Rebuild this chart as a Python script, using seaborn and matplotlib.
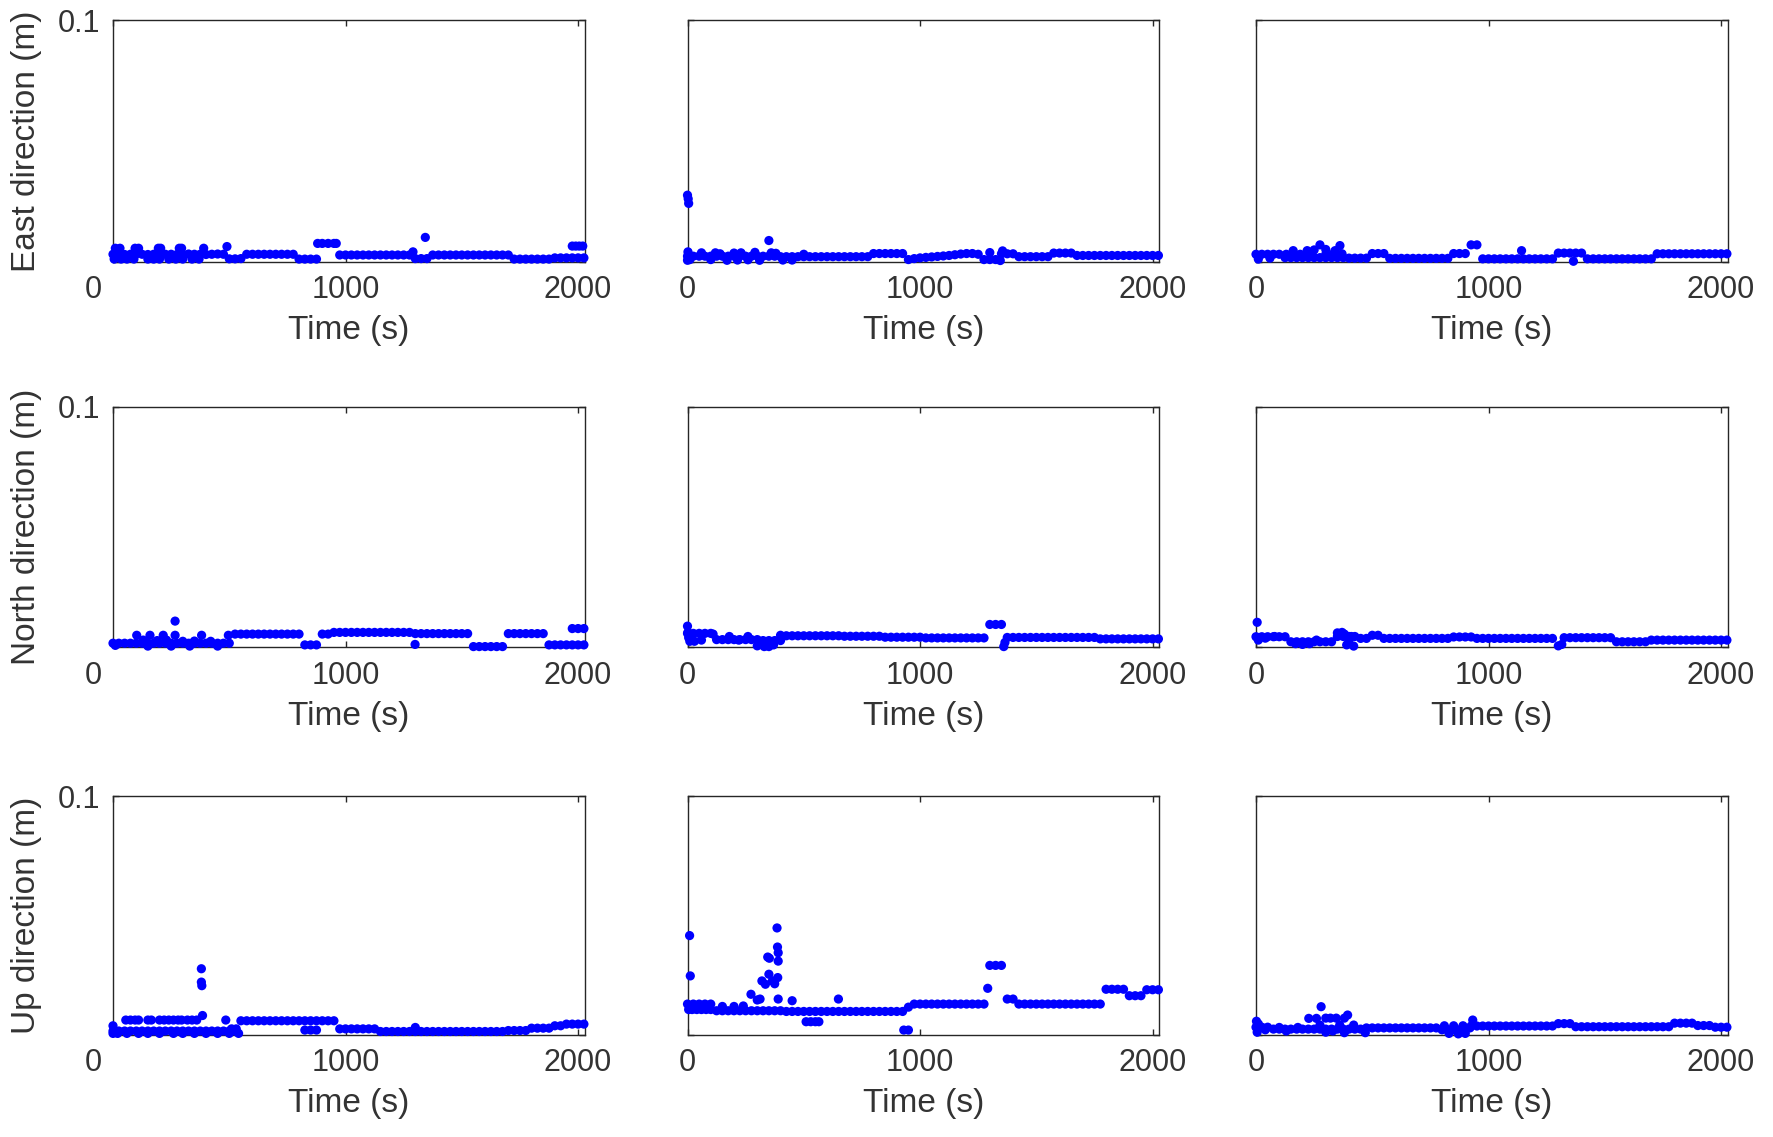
import numpy as np
import pandas as pd
import matplotlib
matplotlib.use("Agg")
import matplotlib.pyplot as plt
import matplotlib.transforms as mtransforms
import seaborn as sns

# ---------------- data ----------------
time_grid = np.arange(0, 2026, 25)  # sample times (s), 82 samples

east_1 = [
    0.0030, 0.0031, 0.0029, 0.0030, 0.0031, 0.0030, 0.0029, 0.0030, 0.0031, 0.0030,
    0.0030, 0.0029, 0.0030, 0.0031, 0.0030, 0.0030, 0.0029, 0.0030, 0.0031, 0.0030,
    0.0011, 0.0011, 0.0012, 0.0030, 0.0030, 0.0030, 0.0030, 0.0030, 0.0030, 0.0030,
    0.0030, 0.0030, 0.0010, 0.0010, 0.0010, 0.0010, 0.0075, 0.0075, 0.0075, 0.0027,
    0.0027, 0.0027, 0.0027, 0.0027, 0.0027, 0.0027, 0.0027, 0.0027, 0.0027, 0.0027,
    0.0027, 0.0027, 0.0012, 0.0012, 0.0012, 0.0027, 0.0027, 0.0027, 0.0027, 0.0027,
    0.0027, 0.0027, 0.0027, 0.0027, 0.0027, 0.0027, 0.0027, 0.0027, 0.0027, 0.0010,
    0.0010, 0.0010, 0.0010, 0.0010, 0.0010, 0.0010, 0.0015, 0.0015, 0.0015, 0.0015,
    0.0015, 0.0015]
east_1_extra_t = [10, 30, 95, 110, 195, 205, 285, 295, 390, 490,
                  5, 35, 60, 90, 150, 175, 200, 240, 270, 300, 340, 370,
                  880, 960, 1290, 1343, 1975, 1990, 2005, 2020]
east_1_extra_v = [0.0055, 0.0055, 0.0055, 0.0055, 0.0055, 0.0055, 0.0055, 0.0055, 0.0055, 0.0062,
                  0.0010, 0.0010, 0.0010, 0.0010, 0.0010, 0.0010, 0.0010, 0.0010, 0.0010, 0.0010, 0.0010, 0.0010,
                  0.0075, 0.0075, 0.0040, 0.0100, 0.0064, 0.0064, 0.0064, 0.0064]

east_2 = [
    0.0022, 0.0022, 0.0022, 0.0022, 0.0022, 0.0022, 0.0022, 0.0022, 0.0022, 0.0022,
    0.0022, 0.0022, 0.0022, 0.0022, 0.0022, 0.0022, 0.0020, 0.0020, 0.0020, 0.0020,
    0.0020, 0.0020, 0.0020, 0.0020, 0.0020, 0.0020, 0.0020, 0.0020, 0.0020, 0.0020,
    0.0020, 0.0020, 0.0033, 0.0033, 0.0033, 0.0033, 0.0033, 0.0033, 0.0008, 0.0012,
    0.0015, 0.0017, 0.0019, 0.0021, 0.0023, 0.0025, 0.0028, 0.0031, 0.0033, 0.0033,
    0.0030, 0.0008, 0.0008, 0.0008, 0.0032, 0.0032, 0.0032, 0.0020, 0.0020, 0.0020,
    0.0020, 0.0020, 0.0020, 0.0035, 0.0035, 0.0035, 0.0035, 0.0025, 0.0025, 0.0025,
    0.0025, 0.0025, 0.0025, 0.0025, 0.0025, 0.0025, 0.0025, 0.0025, 0.0025, 0.0025,
    0.0025, 0.0025]
east_2_extra_t = [0, 3, 5, 0, 2, 10, 60, 100, 120, 140, 170, 200, 215, 230, 260, 290,
                  310, 350, 360, 380, 410, 450, 500, 1300, 1355, 1345]
east_2_extra_v = [0.0275, 0.0260, 0.0241, 0.0005, 0.0040, 0.0008, 0.0036, 0.0008, 0.0036, 0.0032,
                  0.0005, 0.0035, 0.0006, 0.0036, 0.0007, 0.0038, 0.0005, 0.0087, 0.0036, 0.0034,
                  0.0006, 0.0006, 0.0030, 0.0037, 0.0044, 0.0004]

east_3 = [
    0.0030, 0.0030, 0.0030, 0.0030, 0.0030, 0.0016, 0.0016, 0.0016, 0.0016, 0.0016,
    0.0016, 0.0016, 0.0016, 0.0016, 0.0016, 0.0016, 0.0014, 0.0014, 0.0014, 0.0014,
    0.0033, 0.0033, 0.0033, 0.0013, 0.0013, 0.0013, 0.0013, 0.0013, 0.0013, 0.0013,
    0.0013, 0.0013, 0.0013, 0.0013, 0.0033, 0.0033, 0.0033, 0.0069, 0.0069, 0.0011,
    0.0011, 0.0011, 0.0011, 0.0011, 0.0011, 0.0011, 0.0011, 0.0011, 0.0011, 0.0011,
    0.0011, 0.0011, 0.0035, 0.0035, 0.0035, 0.0035, 0.0035, 0.0011, 0.0011, 0.0011,
    0.0011, 0.0011, 0.0011, 0.0011, 0.0011, 0.0011, 0.0011, 0.0011, 0.0011, 0.0032,
    0.0032, 0.0032, 0.0032, 0.0032, 0.0032, 0.0032, 0.0032, 0.0032, 0.0032, 0.0032,
    0.0032, 0.0032]
east_3_extra_t = [10, 60, 130, 160, 190, 220, 240, 250, 275, 300, 300, 330, 340, 361, 370, 1142, 1365]
east_3_extra_v = [0.0010, 0.0014, 0.0030, 0.0045, 0.0030, 0.0045, 0.0030, 0.0048, 0.0069, 0.0050,
                  0.0030, 0.0030, 0.0045, 0.0066, 0.0032, 0.0045, 0.0001]

north_1 = [
    0.0017, 0.0017, 0.0017, 0.0017, 0.0017, 0.0017, 0.0017, 0.0017, 0.0017, 0.0017,
    0.0017, 0.0017, 0.0017, 0.0017, 0.0017, 0.0017, 0.0017, 0.0017, 0.0017, 0.0017,
    0.0017, 0.0055, 0.0055, 0.0055, 0.0055, 0.0055, 0.0055, 0.0055, 0.0055, 0.0055,
    0.0055, 0.0055, 0.0055, 0.0010, 0.0010, 0.0010, 0.0055, 0.0055, 0.0062, 0.0062,
    0.0062, 0.0062, 0.0062, 0.0062, 0.0062, 0.0062, 0.0062, 0.0062, 0.0062, 0.0062,
    0.0062, 0.0062, 0.0057, 0.0057, 0.0057, 0.0057, 0.0057, 0.0057, 0.0057, 0.0057,
    0.0057, 0.0057, 0.0003, 0.0003, 0.0003, 0.0003, 0.0003, 0.0003, 0.0057, 0.0057,
    0.0057, 0.0057, 0.0057, 0.0057, 0.0057, 0.0010, 0.0010, 0.0010, 0.0010, 0.0010,
    0.0010, 0.0010]
north_1_extra_t = [267, 1299, 1975, 2000, 2025, 102, 159, 216, 267, 381, 496,
                   130, 190, 230, 300, 350, 420, 10, 150, 250, 330, 450]
north_1_extra_v = [0.0109, 0.0012, 0.0078, 0.0078, 0.0078, 0.0050, 0.0050, 0.0050, 0.0050, 0.0050,
                   0.0050, 0.0030, 0.0028, 0.0030, 0.0025, 0.0026, 0.0025, 0.0008, 0.0005, 0.0005,
                   0.0005, 0.0005]

north_2 = [
    0.0058, 0.0058, 0.0058, 0.0058, 0.0058, 0.0032, 0.0032, 0.0032, 0.0032, 0.0032,
    0.0032, 0.0032, 0.0032, 0.0028, 0.0028, 0.0028, 0.0028, 0.0048, 0.0048, 0.0048,
    0.0048, 0.0048, 0.0048, 0.0048, 0.0048, 0.0048, 0.0048, 0.0046, 0.0046, 0.0046,
    0.0046, 0.0046, 0.0046, 0.0046, 0.0042, 0.0042, 0.0042, 0.0042, 0.0042, 0.0042,
    0.0042, 0.0039, 0.0039, 0.0039, 0.0039, 0.0039, 0.0039, 0.0039, 0.0039, 0.0039,
    0.0039, 0.0039, 0.0095, 0.0095, 0.0095, 0.0041, 0.0041, 0.0041, 0.0041, 0.0041,
    0.0041, 0.0041, 0.0041, 0.0041, 0.0041, 0.0041, 0.0041, 0.0041, 0.0041, 0.0041,
    0.0041, 0.0035, 0.0035, 0.0035, 0.0035, 0.0035, 0.0035, 0.0035, 0.0035, 0.0035,
    0.0035, 0.0035]
north_2_extra_t = [0, 2, 5, 10, 30, 60, 110, 180, 220, 260, 300, 330, 350, 370, 400, 1360, 1365]
north_2_extra_v = [0.0088, 0.0062, 0.0040, 0.0025, 0.0025, 0.0030, 0.0055, 0.0045, 0.0030, 0.0045,
                   0.0006, 0.0003, 0.0003, 0.0010, 0.0050, 0.0003, 0.0020]

north_3 = [
    0.0044, 0.0044, 0.0044, 0.0044, 0.0044, 0.0044, 0.0023, 0.0023, 0.0023, 0.0023,
    0.0023, 0.0023, 0.0023, 0.0023, 0.0045, 0.0045, 0.0045, 0.0045, 0.0037, 0.0037,
    0.0050, 0.0050, 0.0037, 0.0037, 0.0037, 0.0037, 0.0037, 0.0037, 0.0037, 0.0037,
    0.0037, 0.0037, 0.0037, 0.0037, 0.0043, 0.0043, 0.0043, 0.0043, 0.0037, 0.0037,
    0.0037, 0.0037, 0.0037, 0.0037, 0.0037, 0.0037, 0.0037, 0.0037, 0.0037, 0.0037,
    0.0037, 0.0037, 0.0006, 0.0040, 0.0040, 0.0040, 0.0040, 0.0040, 0.0040, 0.0040,
    0.0040, 0.0040, 0.0023, 0.0023, 0.0023, 0.0023, 0.0023, 0.0023, 0.0030, 0.0030,
    0.0030, 0.0030, 0.0030, 0.0030, 0.0030, 0.0030, 0.0030, 0.0030, 0.0030, 0.0030,
    0.0030, 0.0030]
north_3_extra_t = [5, 10, 40, 80, 170, 200, 230, 260, 350, 370, 380, 390, 400, 410, 420, 1315]
north_3_extra_v = [0.0104, 0.0030, 0.0038, 0.0045, 0.0015, 0.0012, 0.0015, 0.0030, 0.0060, 0.0062,
                   0.0055, 0.0010, 0.0030, 0.0045, 0.0005, 0.0012]

up_1 = [
    0.0015, 0.0015, 0.0015, 0.0015, 0.0015, 0.0015, 0.0015, 0.0015, 0.0015, 0.0015,
    0.0015, 0.0015, 0.0015, 0.0015, 0.0015, 0.0015, 0.0015, 0.0015, 0.0015, 0.0015,
    0.0015, 0.0015, 0.0058, 0.0058, 0.0058, 0.0058, 0.0058, 0.0058, 0.0058, 0.0058,
    0.0058, 0.0058, 0.0058, 0.0058, 0.0058, 0.0058, 0.0058, 0.0058, 0.0058, 0.0024,
    0.0024, 0.0024, 0.0024, 0.0024, 0.0024, 0.0024, 0.0013, 0.0013, 0.0013, 0.0013,
    0.0013, 0.0013, 0.0013, 0.0013, 0.0013, 0.0013, 0.0013, 0.0013, 0.0013, 0.0013,
    0.0013, 0.0013, 0.0013, 0.0013, 0.0013, 0.0013, 0.0013, 0.0013, 0.0017, 0.0017,
    0.0017, 0.0017, 0.0027, 0.0027, 0.0027, 0.0027, 0.0037, 0.0037, 0.0044, 0.0044,
    0.0044, 0.0044]
up_1_extra_t = [380, 380, 382, 385, 0,
                55, 75, 95, 110, 150, 165, 200, 220, 240, 260, 280, 295, 320, 340, 360, 485,
                0, 20, 60, 110, 150, 200, 260, 300, 350, 400, 450, 500, 540,
                510, 530, 825, 850, 875, 1300]
up_1_extra_v = [0.0276, 0.0220, 0.0205, 0.0080, 0.0037,
                0.0061, 0.0061, 0.0061, 0.0061, 0.0061, 0.0061, 0.0061, 0.0061, 0.0061, 0.0061,
                0.0061, 0.0061, 0.0061, 0.0061, 0.0061, 0.0061,
                0.0005, 0.0005, 0.0005, 0.0005, 0.0005, 0.0005, 0.0005, 0.0005, 0.0005, 0.0005,
                0.0005, 0.0005, 0.0005,
                0.0024, 0.0024, 0.0019, 0.0019, 0.0019, 0.0030]

up_2 = [
    0.0128, 0.0128, 0.0128, 0.0128, 0.0128, 0.0100, 0.0100, 0.0100, 0.0100, 0.0100,
    0.0100, 0.0100, 0.0100, 0.0100, 0.0100, 0.0100, 0.0100, 0.0097, 0.0097, 0.0097,
    0.0097, 0.0097, 0.0097, 0.0097, 0.0097, 0.0097, 0.0097, 0.0097, 0.0097, 0.0097,
    0.0097, 0.0097, 0.0097, 0.0097, 0.0097, 0.0097, 0.0097, 0.0097, 0.0115, 0.0128,
    0.0128, 0.0128, 0.0128, 0.0128, 0.0128, 0.0128, 0.0128, 0.0128, 0.0128, 0.0128,
    0.0128, 0.0128, 0.0290, 0.0290, 0.0290, 0.0149, 0.0149, 0.0128, 0.0128, 0.0128,
    0.0128, 0.0128, 0.0128, 0.0128, 0.0128, 0.0128, 0.0128, 0.0128, 0.0128, 0.0128,
    0.0128, 0.0128, 0.0190, 0.0190, 0.0190, 0.0190, 0.0163, 0.0163, 0.0163, 0.0188,
    0.0188, 0.0188]
up_2_extra_t = [9, 12, 5, 20, 40, 60, 80, 100, 150, 200, 240,
                273, 300, 312, 320, 335, 345, 352, 350, 365, 375, 385, 387, 390, 390, 388, 390,
                450, 649, 510, 530, 550, 565, 930, 950, 1291]
up_2_extra_v = [0.0415, 0.0246, 0.0105, 0.0105, 0.0105, 0.0105, 0.0105, 0.0105, 0.0118, 0.0118, 0.0120,
                0.0169, 0.0145, 0.0149, 0.0225, 0.0211, 0.0325, 0.0320, 0.0253, 0.0225, 0.0213,
                0.0447, 0.0367, 0.0343, 0.0308, 0.0239, 0.0149,
                0.0142, 0.0149, 0.0054, 0.0054, 0.0054, 0.0054, 0.0019, 0.0019, 0.0194]

up_3 = [
    0.0031, 0.0031, 0.0031, 0.0023, 0.0023, 0.0023, 0.0023, 0.0023, 0.0023, 0.0023,
    0.0023, 0.0023, 0.0023, 0.0023, 0.0023, 0.0023, 0.0023, 0.0023, 0.0023, 0.0028,
    0.0028, 0.0028, 0.0028, 0.0028, 0.0028, 0.0028, 0.0028, 0.0028, 0.0028, 0.0028,
    0.0028, 0.0028, 0.0020, 0.0020, 0.0020, 0.0020, 0.0020, 0.0036, 0.0036, 0.0036,
    0.0036, 0.0036, 0.0036, 0.0036, 0.0036, 0.0036, 0.0036, 0.0036, 0.0036, 0.0036,
    0.0036, 0.0036, 0.0046, 0.0046, 0.0046, 0.0033, 0.0033, 0.0033, 0.0033, 0.0033,
    0.0033, 0.0033, 0.0033, 0.0033, 0.0033, 0.0033, 0.0033, 0.0033, 0.0033, 0.0033,
    0.0033, 0.0033, 0.0048, 0.0048, 0.0048, 0.0048, 0.0038, 0.0038, 0.0038, 0.0031,
    0.0031, 0.0031]
up_3_extra_t = [2, 5, 10, 40, 100, 130, 180, 227, 260, 280, 275, 300, 320, 345, 380, 394,
                360, 420, 300, 330, 380, 470, 810, 830, 850, 870, 890, 900, 920, 932]
up_3_extra_v = [0.0056, 0.0010, 0.0045, 0.0020, 0.0030, 0.0015, 0.0030, 0.0068, 0.0068, 0.0117,
                0.0040, 0.0069, 0.0069, 0.0069, 0.0069, 0.0082, 0.0040, 0.0040, 0.0010, 0.0015,
                0.0008, 0.0008, 0.0037, 0.0005, 0.0037, 0.0003, 0.0037, 0.0005, 0.0028, 0.0061]

row_labels = ["East direction (m)", "North direction (m)", "Up direction (m)"]
x_label = "Time (s)"
xtick_values = [0, 1000, 2000]
xtick_labels = ["0", "1000", "2000"]
ytick_values = [0, 0.1]
ytick_labels = ["", "0.1"]

panels = [
    [(east_1, east_1_extra_t, east_1_extra_v), (east_2, east_2_extra_t, east_2_extra_v),
     (east_3, east_3_extra_t, east_3_extra_v)],
    [(north_1, north_1_extra_t, north_1_extra_v), (north_2, north_2_extra_t, north_2_extra_v),
     (north_3, north_3_extra_t, north_3_extra_v)],
    [(up_1, up_1_extra_t, up_1_extra_v), (up_2, up_2_extra_t, up_2_extra_v),
     (up_3, up_3_extra_t, up_3_extra_v)],
]

# ---------------- style ----------------
sns.set_theme(style="white")
plt.rcParams["font.family"] = ["Liberation Sans", "DejaVu Sans"]
TEXT = "#333333"
AXC = "#262626"
BLUE = "#0000FF"

fig = plt.figure(figsize=(17.73, 11.37), dpi=100)
fig.patch.set_facecolor("white")

col_left = [113 / 1773, 687.5 / 1773, 1256 / 1773]
ax_w = 471.6 / 1773
row_top = [20.4, 407.0, 796.0]
row_bot = [261.5, 647.3, 1034.6]

for r in range(3):
    for c in range(3):
        main, et, ev = panels[r][c]
        bottom = 1 - row_bot[r] / 1137
        height = (row_bot[r] - row_top[r]) / 1137
        ax = fig.add_axes([col_left[c], bottom, ax_w, height])
        df = pd.DataFrame({
            "t": np.concatenate([time_grid, np.asarray(et, dtype=float)]),
            "v": np.concatenate([np.asarray(main, dtype=float), np.asarray(ev, dtype=float)]),
        })
        sns.scatterplot(data=df, x="t", y="v", ax=ax, color=BLUE, s=44,
                        linewidth=0, edgecolor="none", clip_on=False, legend=False,
                        zorder=3)
        ax.set_xlim(0, 2028)
        ax.set_ylim(0, 0.1)
        ax.set_facecolor("white")
        for sp in ax.spines.values():
            sp.set_visible(True)
            sp.set_color(AXC)
            sp.set_linewidth(1.0)
        ax.set_xticks(xtick_values)
        ax.set_xticklabels(xtick_labels)
        ax.set_yticks(ytick_values)
        if c == 0:
            ax.set_yticklabels(ytick_labels)
        else:
            ax.set_yticklabels(["", ""])
        ax.tick_params(axis="both", direction="in", length=4, width=1.0,
                       top=True, right=True, bottom=True, left=True,
                       color=AXC, labelcolor=TEXT, labelsize=22)
        ax.tick_params(axis="x", pad=10)
        ax.tick_params(axis="y", pad=9)
        ax.set_xlabel(x_label, fontsize=24, color=TEXT, labelpad=7)
        if c == 0:
            ax.set_ylabel(row_labels[r], fontsize=24, color=TEXT)
            ax.yaxis.set_label_coords(-0.15, 0.5)
            lab0 = ax.xaxis.get_major_ticks()[0].label1
            lab0.set_transform(lab0.get_transform() +
                               mtransforms.ScaledTranslation(-0.20, 0, fig.dpi_scale_trans))
        else:
            ax.set_ylabel("")
        ax.grid(False)

fig.savefig("out.png", dpi=100, facecolor="white")
